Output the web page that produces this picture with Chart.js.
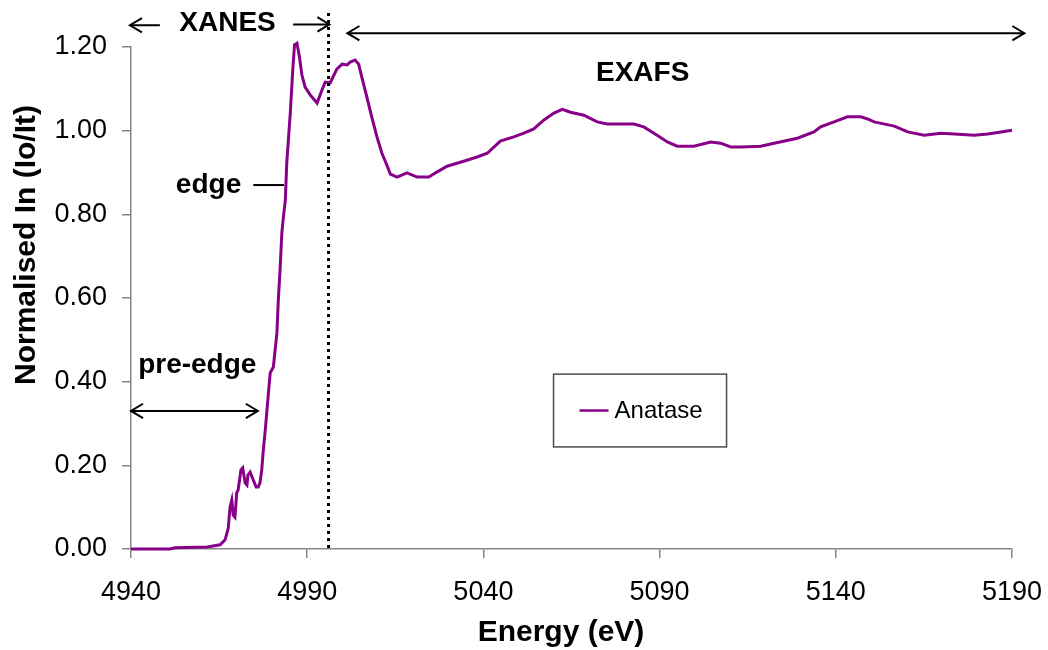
<!DOCTYPE html>
<html>
<head>
<meta charset="utf-8">
<title>Anatase Ti K-edge XAS</title>
<script src="https://cdn.jsdelivr.net/npm/chart.js@4.4.1/dist/chart.umd.min.js"></script>
<style>
  html, body { margin: 0; padding: 0; background: #ffffff; }
  #wrap { width: 1048px; height: 650px; }
</style>
</head>
<body>
<div id="wrap"><canvas id="xas" width="1048" height="650"></canvas></div>
<script>
// Normalised absorption spectrum of anatase (Ti K-edge)
const seriesLabel = 'Anatase';

const energyEV = [
  4940.0, 4951.1, 4952.5, 4961.6, 4965.3, 4966.7, 4967.6, 4968.1, 4968.6, 4969.0,
  4969.5, 4970.0, 4970.4, 4971.2, 4971.7, 4972.4, 4972.9, 4973.2, 4973.8, 4974.7,
  4975.5, 4976.1, 4976.6, 4977.1, 4977.5, 4978.1, 4979.0, 4979.5, 4980.4, 4980.9,
  4981.4, 4981.8, 4982.3, 4982.8, 4983.3, 4983.8, 4984.2, 4985.2, 4985.9, 4986.4,
  4987.1, 4987.8, 4988.5, 4989.4, 4990.9, 4992.8, 4994.2, 4995.1, 4996.5, 4998.4,
  4999.9, 5001.3, 5002.2, 5003.6, 5004.6, 5005.5, 5007.0, 5008.4, 5009.8, 5011.2,
  5012.6, 5013.6, 5015.5, 5018.3, 5021.2, 5024.5, 5026.8, 5029.7, 5034.4, 5038.2,
  5041.1, 5044.8, 5048.6, 5051.5, 5054.3, 5057.1, 5060.0, 5062.4, 5064.7, 5068.5,
  5072.3, 5075.1, 5082.7, 5085.5, 5089.3, 5092.2, 5095.0, 5099.7, 5104.5, 5107.3,
  5110.2, 5113.0, 5118.7, 5122.5, 5129.1, 5133.8, 5135.7, 5139.5, 5143.3, 5147.1,
  5149.0, 5150.9, 5156.6, 5160.4, 5165.1, 5169.8, 5173.6, 5179.3, 5183.1, 5186.9,
  5190.0
];

const absorbance = [
  0.000, 0.000, 0.003, 0.005, 0.010, 0.022, 0.050, 0.100, 0.117, 0.081,
  0.076, 0.134, 0.141, 0.189, 0.194, 0.158, 0.153, 0.177, 0.184, 0.165,
  0.148, 0.148, 0.158, 0.189, 0.232, 0.284, 0.373, 0.421, 0.435, 0.476,
  0.516, 0.595, 0.667, 0.755, 0.798, 0.834, 0.923, 1.042, 1.145, 1.205,
  1.209, 1.176, 1.133, 1.104, 1.085, 1.066, 1.097, 1.116, 1.114, 1.147,
  1.159, 1.157, 1.164, 1.169, 1.159, 1.128, 1.078, 1.030, 0.985, 0.946,
  0.918, 0.896, 0.889, 0.899, 0.889, 0.889, 0.901, 0.915, 0.927, 0.937,
  0.946, 0.975, 0.985, 0.994, 1.004, 1.025, 1.042, 1.051, 1.044, 1.037,
  1.021, 1.016, 1.016, 1.009, 0.989, 0.973, 0.963, 0.963, 0.973, 0.970,
  0.961, 0.961, 0.963, 0.970, 0.982, 0.997, 1.009, 1.021, 1.033, 1.033,
  1.028, 1.021, 1.011, 0.997, 0.989, 0.994, 0.992, 0.989, 0.992, 0.997,
  1.001
];

const xTicks = [4940, 4990, 5040, 5090, 5140, 5190];
const yTicks = [0.0, 0.2, 0.4, 0.6, 0.8, 1.0, 1.2];

// Region markers, given in data units (energy in eV, normalised absorbance)
const xanesEdgeBoundary = 4996;
const regionNotes = {
  xanes:   { text: 'XANES',    x: 4967.4, y: 1.257 },
  exafs:   { text: 'EXAFS',    x: 5085.2, y: 1.138 },
  edge:    { text: 'edge',     x: 4962.0, y: 0.870 },
  preEdge: { text: 'pre-edge', x: 4958.8, y: 0.440 }
};

const lineColor = '#880088';
const axisColor = '#868686';

const points = energyEV.map((e, i) => ({ x: e, y: absorbance[i] }));

function arrowHead(ctx, x, y, dir, size) {
  // open chevron pointing in dir (+1 right, -1 left)
  ctx.beginPath();
  ctx.moveTo(x - dir * size, y - size * 0.6);
  ctx.lineTo(x, y);
  ctx.lineTo(x - dir * size, y + size * 0.6);
  ctx.stroke();
}

function hArrow(ctx, x1, x2, y, startHead, endHead) {
  ctx.beginPath();
  ctx.moveTo(x1, y);
  ctx.lineTo(x2, y);
  ctx.stroke();
  if (startHead) arrowHead(ctx, x1, y, -1, 12);
  if (endHead) arrowHead(ctx, x2, y, 1, 12);
}

const notesPlugin = {
  id: 'regionNotes',
  afterDatasetsDraw(chart) {
    const ctx = chart.ctx;
    const xs = chart.scales.x, ys = chart.scales.y;
    const area = chart.chartArea;
    const px = v => xs.getPixelForValue(v);
    const py = v => ys.getPixelForValue(v);

    ctx.save();
    // dotted XANES / EXAFS divider
    ctx.strokeStyle = '#000';
    ctx.lineWidth = 3;
    ctx.setLineDash([3, 4]);
    ctx.beginPath();
    const dx = Math.round(px(xanesEdgeBoundary)) + 0.5;
    ctx.moveTo(dx, 13);
    ctx.lineTo(dx, area.bottom);
    ctx.stroke();
    ctx.setLineDash([]);

    ctx.lineWidth = 2;
    ctx.lineCap = 'butt';
    ctx.fillStyle = '#000';
    ctx.font = 'bold 28px "Liberation Sans", Arial, sans-serif';
    ctx.textAlign = 'center';
    ctx.textBaseline = 'middle';

    // XANES label with arrows either side
    const xa = regionNotes.xanes;
    ctx.fillText(xa.text, px(xa.x), py(xa.y));
    hArrow(ctx, px(4939.7), px(4948.2), py(1.252), true, false);
    hArrow(ctx, px(4986.0), px(4996.3), py(1.254), false, true);

    // EXAFS label and range arrow
    const ex = regionNotes.exafs;
    ctx.fillText(ex.text, px(ex.x), py(ex.y));
    hArrow(ctx, px(5001.4), px(5193.5), py(1.233), true, true);

    // edge label with leader line
    const ed = regionNotes.edge;
    ctx.fillText(ed.text, px(ed.x), py(ed.y));
    ctx.beginPath();
    ctx.moveTo(px(4974.7), py(0.87));
    ctx.lineTo(px(4983.4), py(0.87));
    ctx.stroke();

    // pre-edge label and range arrow
    const pe = regionNotes.preEdge;
    ctx.fillText(pe.text, px(pe.x), py(pe.y));
    hArrow(ctx, px(4940.0), px(4976.0), py(0.33), true, true);

    // axis titles
    ctx.font = 'bold 30px "Liberation Sans", Arial, sans-serif';
    ctx.fillText('Energy (eV)', 561, 633);
    ctx.save();
    ctx.translate(27, 245);
    ctx.rotate(-Math.PI / 2);
    ctx.fillText('Normalised In (Io/It)', 0, 0);
    ctx.restore();

    // legend box
    const lx1 = px(5059.9), lx2 = px(5109.0);
    const ly1 = py(0.418), ly2 = py(0.244);
    ctx.strokeStyle = '#4d4d4d';
    ctx.lineWidth = 1.5;
    ctx.strokeRect(lx1, ly1, lx2 - lx1, ly2 - ly1);
    const ds = chart.data.datasets[0];
    const ly = (ly1 + ly2) / 2;
    ctx.strokeStyle = ds.borderColor;
    ctx.lineWidth = 2.5;
    ctx.beginPath();
    ctx.moveTo(lx1 + 26, ly);
    ctx.lineTo(lx1 + 55, ly);
    ctx.stroke();
    ctx.fillStyle = '#000';
    ctx.font = '24px "Liberation Sans", Arial, sans-serif';
    ctx.textAlign = 'left';
    ctx.fillText(ds.label, lx1 + 61, ly + 1);
    ctx.restore();
  }
};

const whiteBg = {
  id: 'whiteBg',
  beforeDraw(chart) {
    const ctx = chart.ctx;
    ctx.save();
    ctx.fillStyle = '#fff';
    ctx.fillRect(0, 0, chart.width, chart.height);
    ctx.restore();
  }
};

new Chart(document.getElementById('xas'), {
  type: 'line',
  data: {
    datasets: [{
      label: seriesLabel,
      data: points,
      borderColor: lineColor,
      borderWidth: 3,
      pointRadius: 0,
      tension: 0,
      fill: false,
      clip: false
    }]
  },
  options: {
    responsive: false,
    animation: false,
    devicePixelRatio: 1,
    layout: { padding: { top: 47, right: 36, left: 0, bottom: 0 } },
    plugins: { legend: { display: false }, tooltip: { enabled: false } },
    scales: {
      x: {
        type: 'linear',
        min: xTicks[0],
        max: xTicks[xTicks.length - 1],
        afterBuildTicks(scale) { scale.ticks = xTicks.map(v => ({ value: v })); },
        afterFit(scale) {
          scale.height = 101;
          scale.paddingLeft = 0;
          scale.paddingRight = 0;
        },
        grid: { drawOnChartArea: false, drawTicks: true, tickLength: 9, color: axisColor, lineWidth: 1.5 },
        border: { display: true, color: axisColor, width: 1.5 },
        ticks: {
          color: '#000',
          padding: 18,
          maxRotation: 0,
          font: { family: '"Liberation Sans", Arial, sans-serif', size: 27 },
          callback: v => String(v)
        }
      },
      y: {
        min: yTicks[0],
        max: yTicks[yTicks.length - 1],
        afterBuildTicks(scale) { scale.ticks = yTicks.map(v => ({ value: v })); },
        afterFit(scale) {
          scale.width = 131;
          scale.paddingTop = 0;
          scale.paddingBottom = 0;
        },
        grid: { drawOnChartArea: false, drawTicks: true, tickLength: 9, color: axisColor, lineWidth: 1.5 },
        border: { display: true, color: axisColor, width: 1.5 },
        ticks: {
          color: '#000',
          padding: 15,
          font: { family: '"Liberation Sans", Arial, sans-serif', size: 27 },
          callback: v => Number(v).toFixed(2)
        }
      }
    }
  },
  plugins: [whiteBg, notesPlugin]
});
</script>
</body>
</html>
